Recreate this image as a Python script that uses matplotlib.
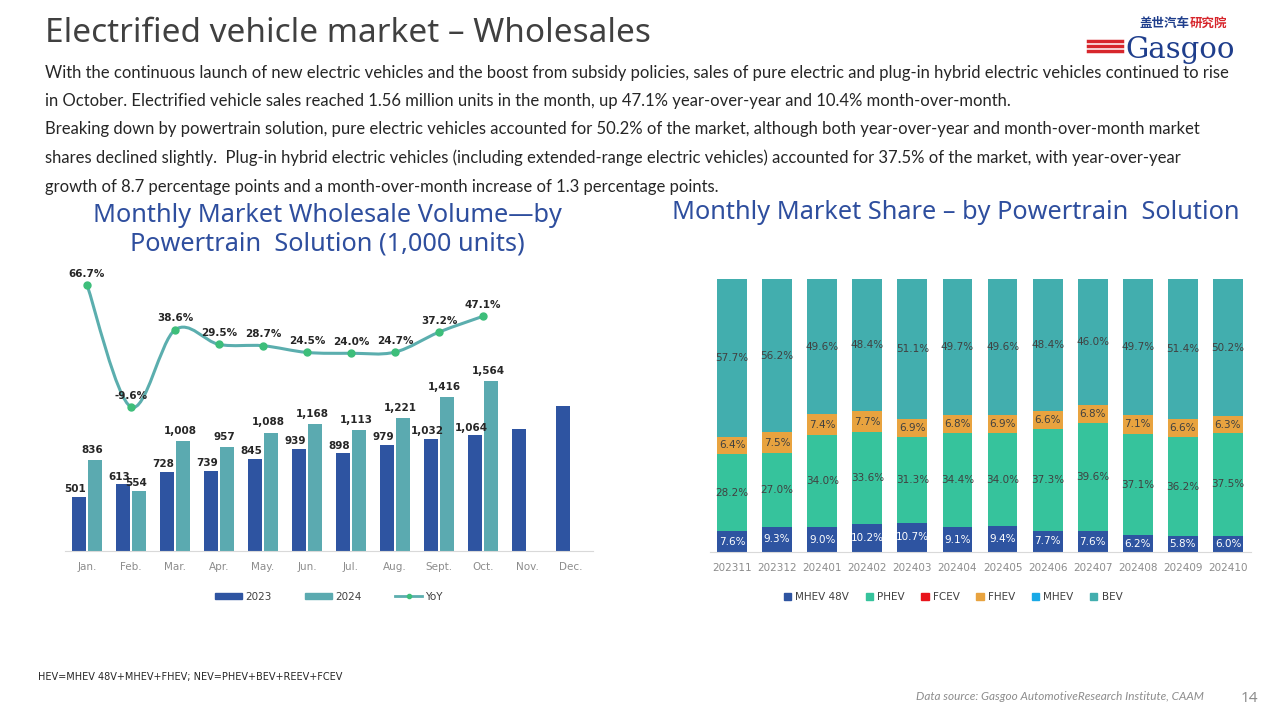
import matplotlib
matplotlib.use("Agg")
import matplotlib.pyplot as plt
import numpy as np
from matplotlib.path import Path
from matplotlib.patches import PathPatch, Rectangle
from matplotlib.lines import Line2D

# ---- data: left chart (1,000 units) ----
months = ["Jan.", "Feb.", "Mar.", "Apr.", "May.", "Jun.", "Jul.", "Aug.", "Sept.", "Oct.", "Nov.", "Dec."]
sales2023 = [501, 613, 728, 739, 845, 939, 898, 979, 1032, 1064, 1122, 1334]
sales2024 = [836, 554, 1008, 957, 1088, 1168, 1113, 1221, 1416, 1564]
yoy = [66.7, -9.6, 38.6, 29.5, 28.7, 24.5, 24.0, 24.7, 37.2, 47.1]
labeled2023 = 10  # Nov/Dec 2023 have no label

# ---- data: right chart (share, %) ----
periods = ["202311", "202312", "202401", "202402", "202403", "202404",
           "202405", "202406", "202407", "202408", "202409", "202410"]
mhev48 = [7.6, 9.3, 9.0, 10.2, 10.7, 9.1, 9.4, 7.7, 7.6, 6.2, 5.8, 6.0]
phev = [28.2, 27.0, 34.0, 33.6, 31.3, 34.4, 34.0, 37.3, 39.6, 37.1, 36.2, 37.5]
fcev = [0.0] * 12
fhev = [6.4, 7.5, 7.4, 7.7, 6.9, 6.8, 6.9, 6.6, 6.8, 7.1, 6.6, 6.3]
mhev = [0.0] * 12
bev = [57.7, 56.2, 49.6, 48.4, 51.1, 49.7, 49.6, 48.4, 46.0, 49.7, 51.4, 50.2]

C_2023 = "#2E54A1"
C_2024 = "#5BAAB0"
C_LINE = "#5BAEAE"
C_MARK = "#3DBE7A"
C_MHEV48 = "#2E54A1"
C_PHEV = "#36C39C"
C_FCEV = "#E8141B"
C_FHEV = "#E8A33F"
C_MHEV = "#19A9E6"
C_BEV = "#42AEAE"
C_TITLE = "#2E4E9E"
GRAY = "#8C8C8C"
TXT = "#404040"

W, H = 1280, 720
fig = plt.figure(figsize=(12.8, 7.2), dpi=100)
fig.patch.set_facecolor("white")


def box(x0, y0, x1, y1):
    # pixel box (top-left origin) -> figure fraction
    return [x0 / W, 1 - y1 / H, (x1 - x0) / W, (y1 - y0) / H]


def ftext(x, y, s, **kw):
    return fig.text(x / W, 1 - y / H, s, **kw)


# ---------------- header ----------------
ftext(45, 34, "Electrified vehicle market \u2013 Wholesales", fontsize=24, color=TXT,
      family="Noto Sans", va="center", ha="left")

body = [
    "With the continuous launch of new electric vehicles and the boost from subsidy policies, sales of pure electric and plug-in hybrid electric vehicles continued to rise",
    "in October. Electrified vehicle sales reached 1.56 million units in the month, up 47.1% year-over-year and 10.4% month-over-month.",
    "Breaking down by powertrain solution, pure electric vehicles accounted for 50.2% of the market, although both year-over-year and month-over-month market",
    "shares declined slightly.  Plug-in hybrid electric vehicles (including extended-range electric vehicles) accounted for 37.5% of the market, with year-over-year",
    "growth of 8.7 percentage points and a month-over-month increase of 1.3 percentage points.",
]
body_y = [73, 101, 129, 158, 187]
for s, y in zip(body, body_y):
    ftext(45, y, s, fontsize=12.0, color="#262626", family="Lato", va="center", ha="left")

# logo
ftext(1140, 27, "盖世汽车", fontsize=9, color="#1F3E8C", family="Noto Sans CJK SC",
      weight="bold", va="baseline", ha="left")
ftext(1190, 27, "研究院", fontsize=9, color="#D7262C", family="Noto Sans CJK SC",
      weight="bold", va="baseline", ha="left")
ftext(1180, 58, "Gasgoo", fontsize=21, color="#1F3E8C", family="DejaVu Serif",
      va="baseline", ha="center")
for yy in (41, 46, 51):
    fig.add_artist(Line2D([1088 / W, 1122 / W], [1 - yy / H, 1 - yy / H],
                          color="#D7262C", lw=2.5, transform=fig.transFigure))

# chart titles
ftext(327, 215, "Monthly Market Wholesale Volume\u2014by", fontsize=18.2, color=C_TITLE,
      family="Noto Sans", va="center", ha="center")
ftext(327, 244, "Powertrain  Solution (1,000 units)", fontsize=18.2, color=C_TITLE,
      family="Noto Sans", va="center", ha="center")
ftext(956, 212, "Monthly Market Share \u2013 by Powertrain  Solution", fontsize=18.2,
      color=C_TITLE, family="Noto Sans", va="center", ha="center")

# ---------------- left chart ----------------
ax = fig.add_axes(box(65, 275, 593, 551))
x = np.arange(len(months))
bw = 0.33
ax.bar(x - 0.18, sales2023, bw, color=C_2023, zorder=2)
ax.bar(x[:len(sales2024)] + 0.18, sales2024, bw, color=C_2024, zorder=2)
for i in range(labeled2023):
    ax.text(x[i] - 0.27, sales2023[i] + 25, f"{sales2023[i]:,}", ha="center", va="bottom",
            fontsize=7.5, weight="bold", color="#262626", family="DejaVu Sans")
for i, v in enumerate(sales2024):
    ax.text(x[i] + 0.12, v + 50 if i != 1 else v + 25, f"{v:,}", ha="center", va="bottom",
            fontsize=7.5, weight="bold", color="#262626", family="DejaVu Sans")
ax.set_xlim(-0.5, len(months) - 0.5)
ax.set_ylim(0, 2540)
ax.set_xticks(x)
ax.set_xticklabels(months, fontsize=7.5, color=GRAY)
ax.tick_params(axis="x", length=0, pad=8)
ax.set_yticks([])
for sp in ("top", "right", "left"):
    ax.spines[sp].set_visible(False)
ax.spines["bottom"].set_color("#D9D9D9")
ax.patch.set_alpha(0)

ax2 = ax.twinx()
ax2.set_ylim(-99.6, 72.9)
ax2.set_yticks([])
for sp in ax2.spines.values():
    sp.set_visible(False)
# smoothed line (Catmull-Rom -> cubic Bezier through the data points)
px = np.arange(len(yoy), dtype=float)
py = np.array(yoy)
verts = [(px[0], py[0])]
codes = [Path.MOVETO]
t = 1 / 6
for i in range(len(px) - 1):
    p0 = (px[max(i - 1, 0)], py[max(i - 1, 0)])
    p1 = (px[i], py[i])
    p2 = (px[i + 1], py[i + 1])
    p3 = (px[min(i + 2, len(px) - 1)], py[min(i + 2, len(px) - 1)])
    c1 = (p1[0] + (p2[0] - p0[0]) * t, p1[1] + (p2[1] - p0[1]) * t)
    c2 = (p2[0] - (p3[0] - p1[0]) * t, p2[1] - (p3[1] - p1[1]) * t)
    verts += [c1, c2, p2]
    codes += [Path.CURVE4] * 3
ax2.add_patch(PathPatch(Path(verts, codes), fill=False, edgecolor=C_LINE, lw=2.2, zorder=3))
ax2.plot(px, py, "o", color=C_MARK, ms=5, zorder=4)
for i, v in enumerate(yoy):
    ax2.text(px[i], v + 4, f"{v:.1f}%", ha="center", va="bottom", fontsize=7.5,
             weight="bold", color="#262626", family="DejaVu Sans")

# legend left
lg = ax.legend(handles=[Rectangle((0, 0), 1, 1, color=C_2023),
                        Rectangle((0, 0), 1, 1, color=C_2024),
                        Line2D([], [], color=C_LINE, marker="o", mfc=C_MARK, mec=C_MARK, ms=3, lw=2)],
               labels=["2023", "2024", "YoY"], loc="center", bbox_to_anchor=(0.5, -0.165),
               ncol=3, frameon=False, fontsize=7.5, handlelength=2.6, handleheight=0.5,
               columnspacing=3.2, handletextpad=0.3)
for t_ in lg.get_texts():
    t_.set_color(TXT)

# ---------------- right chart ----------------
bx = fig.add_axes(box(709.5, 279, 1250.5, 552))
xr = np.arange(len(periods))
series = [("MHEV 48V", mhev48, C_MHEV48), ("PHEV", phev, C_PHEV), ("FCEV", fcev, C_FCEV),
          ("FHEV", fhev, C_FHEV), ("MHEV", mhev, C_MHEV), ("BEV", bev, C_BEV)]
totals = np.sum([s[1] for s in series], axis=0)
bottom = np.zeros(len(periods))
handles = []
for name, vals, col in series:
    v = np.array(vals) / totals * 100
    bx.bar(xr, v, 0.66, bottom=bottom, color=col, zorder=2)
    for i in range(len(periods)):
        if vals[i] > 0:
            bx.text(xr[i], bottom[i] + v[i] / 2, f"{vals[i]:.1f}%", ha="center", va="center",
                    fontsize=7.5, color="white" if name == "MHEV 48V" else TXT,
                    family="DejaVu Sans", zorder=3)
    bottom += v
    handles.append(Rectangle((0, 0), 1, 1, color=col))
bx.set_xlim(-0.5, len(periods) - 0.5)
bx.set_ylim(0, 100)
bx.set_xticks(xr)
bx.set_xticklabels(periods, fontsize=7.5, color=GRAY)
bx.tick_params(axis="x", length=0, pad=8)
bx.set_yticks([])
for sp in ("top", "right", "left"):
    bx.spines[sp].set_visible(False)
bx.spines["bottom"].set_color("#D9D9D9")
lg2 = bx.legend(handles=handles, labels=[s[0] for s in series], loc="center",
                bbox_to_anchor=(0.45, -0.165), ncol=6, frameon=False, fontsize=7.5,
                handlelength=0.7, handleheight=0.7, columnspacing=1.6, handletextpad=0.4)
for t_ in lg2.get_texts():
    t_.set_color(TXT)

# ---------------- footer ----------------
ftext(38, 677, "HEV=MHEV 48V+MHEV+FHEV; NEV=PHEV+BEV+REEV+FCEV", fontsize=7, color="#262626",
      family="Liberation Sans Narrow", va="center", ha="left")
ftext(1204, 697, "Data source: Gasgoo AutomotiveResearch Institute, CAAM", fontsize=8.5,
      color=GRAY, style="italic", family="Lato", va="center", ha="right")
ftext(1249, 698, "14", fontsize=11, color=GRAY, family="Noto Sans", va="center", ha="center")

fig.savefig("out.png", dpi=100, facecolor="white")
